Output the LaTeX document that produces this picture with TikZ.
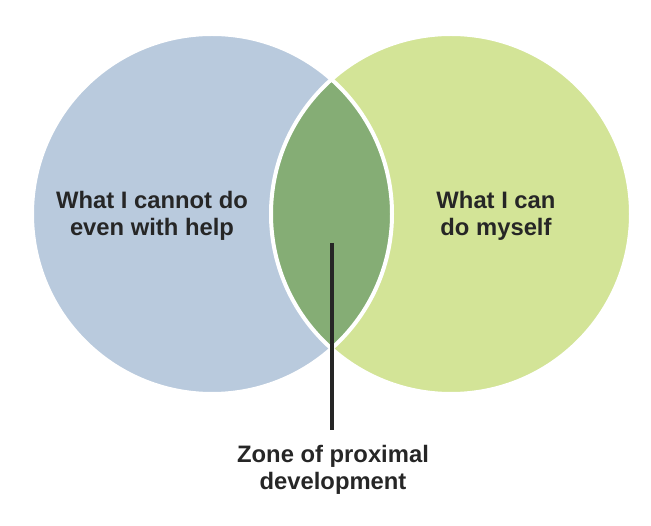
\documentclass[tikz,border=0pt]{standalone}
\usepackage{fontspec}
\setmainfont{Liberation Sans}
\usetikzlibrary{arrows.meta,positioning}

\definecolor{helpblue}{HTML}{B9CADD}
\definecolor{selfgreen}{HTML}{D3E497}
\definecolor{zpdgreen}{HTML}{85AD75}
\definecolor{textgray}{HTML}{262626}

\begin{document}
\begin{tikzpicture}[
  x=1pt,
  y=-1pt,
  font=\fontsize{23.8}{27}\selectfont\bfseries,
  zone/.style={draw=white, line width=4pt},
  caption/.style={align=center, inner sep=0pt, text=textgray},
  link/.style={draw=textgray, line width=3.2pt}
]
  \useasboundingbox (0,0) rectangle (651,526);

  \coordinate (cannot) at (212,214);
  \coordinate (can) at (451,214);

  \fill[helpblue] (cannot) circle (180);
  \fill[selfgreen] (can) circle (180);
  \begin{scope}
    \clip (cannot) circle (180);
    \fill[zpdgreen] (can) circle (180);
  \end{scope}
  \draw[zone] (cannot) circle (180);
  \draw[zone] (can) circle (180);

  \node[caption] (cannotlabel) at (152,215.5) {What I cannot do\\even with help};
  \node[caption] (canlabel) at (496,215.5) {What I can\\do myself};
  \node[caption] (zpd) at (333,469.5) {Zone of proximal\\development};

  \coordinate (zpdtip) at (332,243);
  \draw[link, shorten >=15pt] (zpdtip) -- (zpdtip |- zpd.north);
\end{tikzpicture}
\end{document}
